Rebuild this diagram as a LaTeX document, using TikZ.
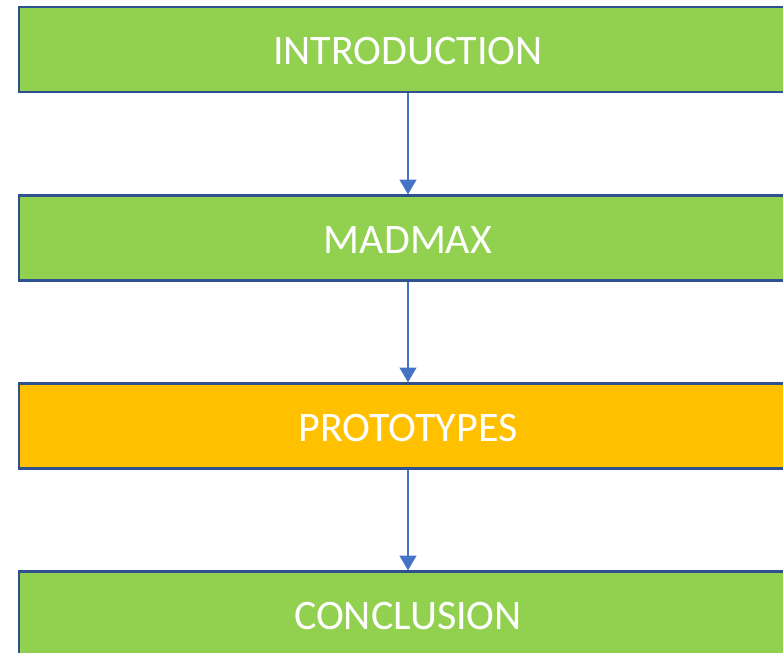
\documentclass[tikz,border=0pt]{standalone}
\usepackage{fontspec}
\setmainfont{Carlito}
\usetikzlibrary{arrows.meta}
\definecolor{boxgreen}{HTML}{92D050}
\definecolor{boxorange}{HTML}{FFC000}
\definecolor{boxline}{HTML}{2F528F}
\definecolor{arrowblue}{HTML}{4472C4}
\tikzset{
  stage/.style={draw=boxline, line width=1.7pt, minimum width={778*0.75pt}, minimum height={85*0.75pt}, inner sep=0pt, text height=23pt, text depth=0pt, text=white, font=\fontsize{31.5}{36}\selectfont},
  link/.style={draw=arrowblue, line width=1.5pt, -{Triangle[width=12.5pt,length=11pt]}}
}
\begin{document}
\begin{tikzpicture}[x=0.75pt,y=-0.75pt]
\useasboundingbox (0,0) rectangle (783,653);
\node[stage, fill=boxgreen] (intro) at (408,49.5) {INTRODUCTION};
\node[stage, fill=boxgreen] (madmax) at (408,238) {MADMAX};
\node[stage, fill=boxorange] (proto) at (408,426) {PROTOTYPES};
\node[stage, fill=boxgreen] (concl) at (408,614) {CONCLUSION};
\draw[link] (intro) -- (madmax);
\draw[link] (madmax) -- (proto);
\draw[link] (proto) -- (concl);
\end{tikzpicture}
\end{document}
